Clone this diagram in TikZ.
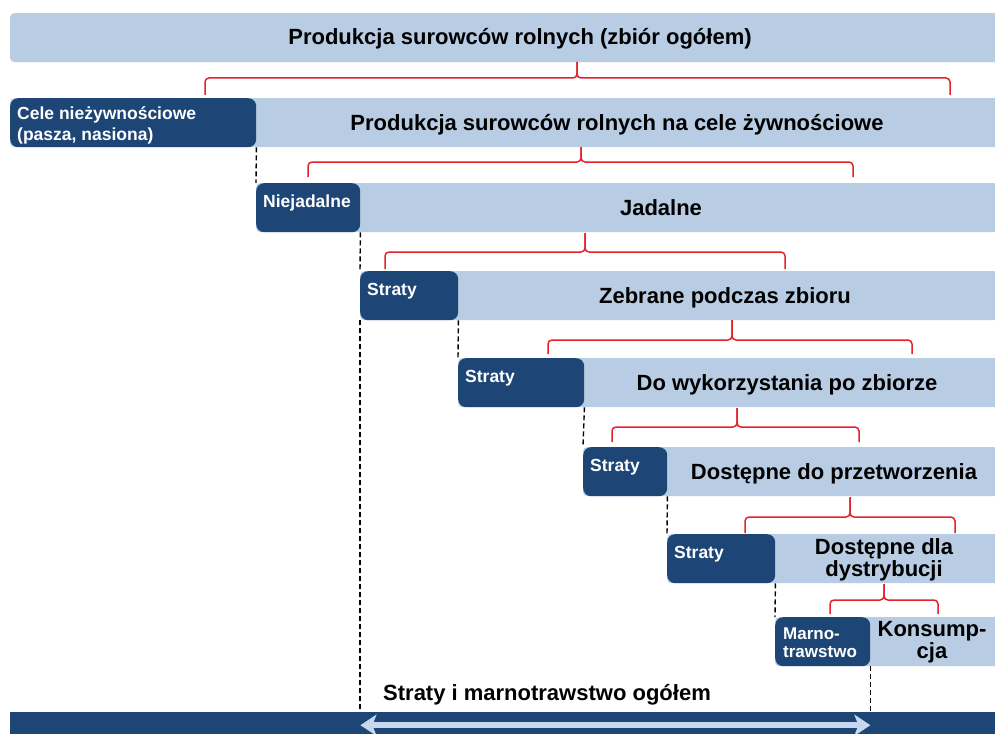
\documentclass[tikz,border=0pt]{standalone}
\usepackage{fontspec}
\setmainfont{Liberation Sans}
\usetikzlibrary{positioning, arrows.meta}
\definecolor{bandlight}{RGB}{184,204,228}
\definecolor{banddark}{RGB}{29,70,119}
\definecolor{bracered}{RGB}{228,34,40}
\definecolor{arrowlight}{RGB}{198,215,238}
\tikzset{
band/.style={fill=bandlight, rounded corners=4pt, anchor=north west, minimum height=49pt, inner sep=0pt}, % light band of one row
lossbox/.style={fill=banddark, rounded corners=8pt, anchor=north west, minimum height=49pt, inner sep=0pt}, % dark box at the left of a row
rowtext/.style={font=\bfseries\fontsize{22}{22}\selectfont, anchor=base, inner sep=0pt, align=center}, % black text of a row
losstext/.style={font=\bfseries\fontsize{17.5}{21}\selectfont, text=white, anchor=west, inner sep=0pt, align=left}, % white text in a dark box
lossone/.style={losstext, text height=8pt, text depth=8pt}, % one line of white text
redbrace/.style={draw=bracered, line width=1.5pt, rounded corners=4pt}, % red bracket between two rows
cutline/.style={draw=black, line width=1.4pt, dash pattern=on 5pt off 3pt}, % dashed line between dark boxes
spanarrow/.style={<->, >={Stealth[length=16pt,width=21pt,inset=4pt]}, draw=arrowlight, line width=6.5pt}, % arrow in the bottom bar
}
\begin{document}
\begin{tikzpicture}[x=1pt, y=-1pt]
\clip (0,0) rectangle (995,733);

% rows from top to bottom
\node[band, minimum width=995] (all) at (10,13) {};
\node[rowtext] (allT) at (520,45) {Produkcja surowców rolnych (zbiór ogółem)};

\node[band, minimum width=995] (food) at (10,98) {};
\node[lossbox, minimum width=246] (nonfood) at (10,98) {};
\node[losstext] (nonfoodT) at ([xshift=7pt, yshift=-2.5pt]nonfood.west) {Cele nieżywnościowe\\(pasza, nasiona)};
\node[rowtext] (foodT) at (617,130) {Produkcja surowców rolnych na cele żywnościowe};

\node[band, minimum width=750] (edible) at (256,183) {};
\node[lossbox, minimum width=104] (inedible) at (256,183) {};
\node[lossone] (inedibleT) at ([xshift=7pt]inedible.west) {Niejadalne};
\node[rowtext] (edibleT) at (661,215) {Jadalne};

\node[band, minimum width=650] (harvest) at (360,271) {};
\node[lossbox, minimum width=98] (loss1) at (360,271) {};
\node[lossone] (loss1T) at ([xshift=7pt]loss1.west) {Straty};
\node[rowtext] (harvestT) at (725,303) {Zebrane podczas zbioru};

\node[band, minimum width=550] (usable) at (458,358) {};
\node[lossbox, minimum width=126] (loss2) at (458,358) {};
\node[lossone] (loss2T) at ([xshift=7pt]loss2.west) {Straty};
\node[rowtext] (usableT) at (787,390) {Do wykorzystania po zbiorze};

\node[band, minimum width=420] (process) at (583,447) {};
\node[lossbox, minimum width=84] (loss3) at (583,447) {};
\node[lossone] (loss3T) at ([xshift=7pt]loss3.west) {Straty};
\node[rowtext] (processT) at (834,479) {Dostępne do przetworzenia};

\node[band, minimum width=340] (distrib) at (667,534) {};
\node[lossbox, minimum width=108] (loss4) at (667,534) {};
\node[lossone] (loss4T) at ([xshift=7pt]loss4.west) {Straty};
\node[rowtext, anchor=center] (distribT) at (884,560) {Dostępne dla\\dystrybucji};

\node[band, minimum width=230] (consum) at (775,617) {};
\node[lossbox, minimum width=95] (waste) at (775,617) {};
\node[losstext, font=\bfseries\fontsize{17}{18}\selectfont] (wasteT) at ([xshift=8pt, yshift=-1pt]waste.west) {Marno-\\trawstwo};
\node[rowtext, anchor=center, font=\bfseries\fontsize{22}{20}\selectfont] (consumT) at (932,642) {Konsump-\\cja};

% bottom bar
\node[fill=banddark, anchor=north west, minimum width=995, minimum height=26, inner sep=0pt] (total) at (10,712) {};
\node[rowtext, anchor=base west] (totalT) at (383,700) {Straty i marnotrawstwo ogółem};
\draw[spanarrow] (inedible.south east |- total) -- (waste.south east |- total);

% dashed lines
\draw[cutline] (nonfood.south east) -- (inedible.north west);
\draw[cutline] (inedible.south east) -- (loss1.north west);
\draw[cutline] (loss1.south west) -- (loss1.south west |- total.north);
\draw[cutline] (loss1.south east) -- (loss2.north west);
\draw[cutline] (loss2.south east) -- (loss3.north west);
\draw[cutline] (loss3.south east) -- (loss4.north west);
\draw[cutline] (loss4.south east) -- (waste.north west);
\draw[cutline] (waste.south east) -- (waste.south east |- total.north);

% red brackets
\foreach \xa/\xt/\xb/\yh/\ye/\yt in {205/577/950/78/95/62, 308/581/853/162/177/147,
  385/585/785/252/269/233, 548/732/912/340/354/320, 612/737/859/427/442/408,
  745/850/955/517/533/497, 830/884/938/600/614/584}
{
  \draw[redbrace] (\xa,\ye) -- (\xa,\yh) -- (\xt,\yh) -- (\xt,\yt);
  \draw[redbrace] (\xb,\ye) -- (\xb,\yh) -- (\xt,\yh) -- (\xt,\yt);
}
\end{tikzpicture}
\end{document}
